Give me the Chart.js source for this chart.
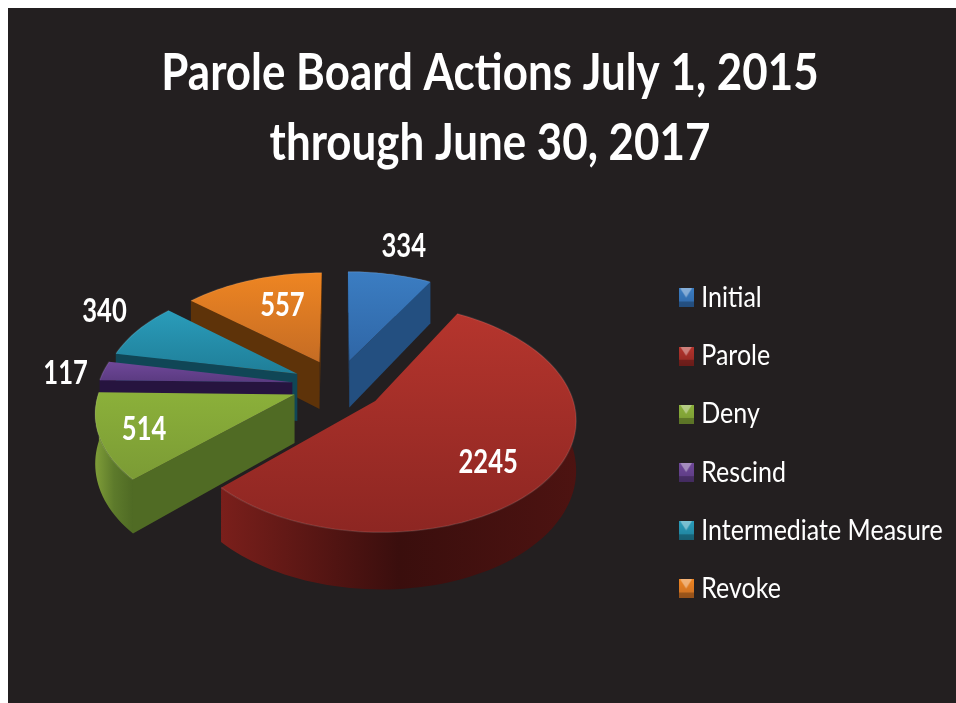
<!DOCTYPE html>
<html>
<head>
<meta charset="utf-8">
<title>Parole Board Actions</title>
<script src="https://cdn.jsdelivr.net/npm/chart.js@4"></script>
<style>
    html, body { margin: 0; padding: 0; background: #fff; overflow: hidden; }
    #wrap { position: absolute; left: 8px; top: 8px; width: 948px; height: 695px; background: #231f20; }
</style>
</head>
<body>
<div id="wrap"><canvas id="pieChart" width="948" height="695"></canvas></div>
<script>
// Chart data
const categories = ['Initial', 'Parole', 'Deny', 'Rescind', 'Intermediate Measure', 'Revoke'];
const actions = [334, 2245, 514, 117, 340, 557];
const titleLines = ['Parole Board Actions July 1, 2015', 'through June 30, 2017'];

// Slice colours: top surface light/dark, flat cut walls, rim wall left/middle/right
const topLight = ['#3b7dc2', '#b5352d', '#8bb03a', '#6f4899', '#2a9cba', '#ee8522'];
const topDark = ['#2f66a6', '#8d2622', '#7b9b35', '#5a3a80', '#1f7e98', '#c56c24'];
const cutWall = ['#234f80', '#3a0f0e', '#506b24', '#26143f', '#104656', '#5e3309'];
const rimLeft = ['#234f80', '#7a1f1b', '#7f9d38', '#2a1747', '#114c5e', '#5e3309'];
const rimMid = ['#234f80', '#3a0e0d', '#5d7a2b', '#2a1747', '#114c5e', '#5e3309'];
const rimRight = ['#1d4370', '#4d1311', '#4f6a24', '#1d1033', '#0d3d4c', '#542c08'];

// How far out each value label sits (pie radii) and its small shift on the page
const labelRadius = [1.40, 0.72, 0.78, 1.19, 1.22, 0.66];
const labelShift = [[0, 2], [-10, 9], [0, 2], [-3, 5], [-1, -9], [9, 0]];

// Camera used to tilt the pie
const camera = { x: 330, y: 377, rx: 194, ry: 108, depth: 48, perspective: 0.14 };

// Horizontal squeeze of the wide Lato glyphs
const titleSqueeze = 0.844;
const legendSqueeze = 0.893;
const legendMarkerX = 670.5;

function project(u, v, h) {
    const s = 1 / (1 - camera.perspective * v);
    return {
        x: camera.x + camera.rx * u * s,
        y: camera.y + camera.ry * v * s + h * camera.depth * s
    };
}

// Points of one slice on the unit circle, moved out by its offset
function sliceGeometry(arc) {
    const { startAngle, endAngle, outerRadius } = arc.getProps(['startAngle', 'endAngle', 'outerRadius']);
    const mid = (startAngle + endAngle) / 2;
    const e = arc.options.offset / outerRadius;
    const ox = Math.cos(mid) * e;
    const oy = Math.sin(mid) * e;
    const rim = [];
    const steps = Math.max(6, Math.round((endAngle - startAngle) * 30));
    for (let i = 0; i <= steps; i++) {
        const a = startAngle + (endAngle - startAngle) * i / steps;
        rim.push([Math.cos(a) + ox, Math.sin(a) + oy]);
    }
    return { mid, ox, oy, rim };
}

function fillPath(ctx, points, fill) {
    ctx.beginPath();
    points.forEach((p, i) => i ? ctx.lineTo(p.x, p.y) : ctx.moveTo(p.x, p.y));
    ctx.closePath();
    ctx.fillStyle = fill;
    ctx.fill();
}

function wall(ctx, pts, fill) {
    const top = pts.map(p => project(p[0], p[1], 0));
    const bottom = pts.map(p => project(p[0], p[1], 1)).reverse();
    fillPath(ctx, top.concat(bottom), fill);
}

// A cut shows only when the slice's top lies above its edge on the page
function cutFacesViewer(apex, edge, inner) {
    const a = project(apex[0], apex[1], 0);
    const p = project(edge[0], edge[1], 0);
    const q = project(inner[0], inner[1], 0);
    const cross = (p.x - a.x) * (q.y - a.y) - (p.y - a.y) * (q.x - a.x);
    return cross * Math.sign(p.x - a.x) < 0;
}

function drawSlice(ctx, arc, i) {
    const { ox, oy, rim } = sliceGeometry(arc);
    const apex = [ox, oy];
    const inner = rim[Math.floor(rim.length / 2)];

    // rim wall first, then the visible cuts, the top covers whatever faces away
    const xs = rim.map(p => project(p[0], p[1], 1).x);
    const side = ctx.createLinearGradient(Math.min(...xs), 0, Math.max(...xs), 0);
    side.addColorStop(0, rimLeft[i]);
    side.addColorStop(0.5, rimMid[i]);
    side.addColorStop(1, rimRight[i]);
    wall(ctx, rim, side);
    [rim[0], rim[rim.length - 1]].forEach(edge => {
        if (cutFacesViewer(apex, edge, inner)) {
            wall(ctx, [apex, edge], cutWall[i]);
        }
    });

    const top = [project(apex[0], apex[1], 0)].concat(rim.map(p => project(p[0], p[1], 0)));
    const ys = top.map(p => p.y);
    const face = ctx.createLinearGradient(0, Math.min(...ys), 0, Math.max(...ys));
    face.addColorStop(0, topLight[i]);
    face.addColorStop(1, topDark[i]);
    fillPath(ctx, top, face);

    // soft bevel along the outer edge
    ctx.beginPath();
    top.slice(1).forEach((p, n) => n ? ctx.lineTo(p.x, p.y) : ctx.moveTo(p.x, p.y));
    ctx.strokeStyle = 'rgba(255,255,255,0.10)';
    ctx.lineWidth = 1.5;
    ctx.stroke();
}

// Draws the tilted slices out of the arc elements the pie controller has laid out
const tiltedPie = {
    id: 'tiltedPie',
    beforeDatasetDraw(chart) {
        const ctx = chart.ctx;
        const arcs = chart.getDatasetMeta(0).data;
        const order = arcs.map((arc, i) => i).sort((a, b) => sliceGeometry(arcs[a]).oy - sliceGeometry(arcs[b]).oy);
        ctx.save();
        order.forEach(i => drawSlice(ctx, arcs[i], i));

        // value labels
        ctx.fillStyle = '#fff';
        ctx.textAlign = 'center';
        ctx.textBaseline = 'middle';
        arcs.forEach((arc, i) => {
            const { mid, ox, oy } = sliceGeometry(arc);
            const p = project(ox + Math.cos(mid) * labelRadius[i], oy + Math.sin(mid) * labelRadius[i], 0);
            ctx.save();
            ctx.translate(p.x + labelShift[i][0], p.y + labelShift[i][1]);
            ctx.scale(0.8, 1);
            ctx.font = 'bold 32px Lato';
            ctx.fillText(actions[i], 0, 0);
            ctx.restore();
        });
        ctx.restore();
        return false;
    },
    // Title and legend keep their own layout, only the glyphs get narrower
    afterLayout(chart) {
        const title = chart.titleBlock;
        const legend = chart.legend;
        const drawTitle = Object.getPrototypeOf(title).draw;
        const drawLegend = Object.getPrototypeOf(legend).draw;
        title.draw = function () {
            const ctx = chart.ctx;
            const cx = (title.left + title.right) / 2;
            ctx.save();
            ctx.translate(cx, 0);
            ctx.scale(titleSqueeze, 1);
            ctx.translate(-cx, 0);
            drawTitle.call(title);
            ctx.restore();
        };
        legend.draw = function () {
            const ctx = chart.ctx;
            const hit = legend.legendHitBoxes[0].left;
            ctx.save();
            ctx.translate(legendMarkerX, 0);
            ctx.scale(legendSqueeze, 1);
            ctx.translate(-hit + 5.5, 0);
            drawLegend.call(legend);
            ctx.restore();
        };
    }
};

// Little bevelled legend squares
function makeMarker(i) {
    const c = document.createElement('canvas');
    c.width = 17;
    c.height = 19;
    const m = c.getContext('2d');
    const g = m.createLinearGradient(0, 0, 0, 19);
    g.addColorStop(0, topLight[i]);
    g.addColorStop(1, topDark[i]);
    m.fillStyle = g;
    m.fillRect(0, 0, 17, 19);
    m.fillStyle = 'rgba(255,255,255,0.38)';
    m.beginPath();
    m.moveTo(2, 0);
    m.lineTo(15, 0);
    m.lineTo(8.5, 9);
    m.fill();
    m.fillStyle = 'rgba(0,0,0,0.25)';
    m.fillRect(0, 13, 17, 6);
    return c;
}

const markers = categories.map((c, i) => makeMarker(i));

const pieChart = new Chart(document.getElementById('pieChart').getContext('2d'), {
    type: 'pie',
    plugins: [tiltedPie],
    data: {
        labels: categories,
        datasets: [{
            data: actions,
            backgroundColor: topLight,
            borderWidth: 0,
            offset: 38,
            radius: 160
        }]
    },
    options: {
        responsive: false,
        animation: false,
        layout: { padding: { left: 16 } },
        plugins: {
            tooltip: { enabled: false },
            title: {
                display: true,
                text: titleLines,
                color: '#fff',
                font: { family: 'Lato', weight: 'bold', size: 52, lineHeight: 1.346 },
                padding: { top: 30, bottom: 6 }
            },
            legend: {
                position: 'right',
                fullSize: false,
                labels: {
                    color: '#fff',
                    font: { family: 'Lato', size: 28 },
                    usePointStyle: true,
                    boxWidth: 6,
                    boxHeight: 17,
                    padding: 30.2,
                    generateLabels(chart) {
                        return Chart.overrides.pie.plugins.legend.labels.generateLabels(chart)
                            .map((item, i) => ({ ...item, pointStyle: markers[i], fontColor: '#fff' }));
                    }
                }
            }
        }
    }
});
</script>
</body>
</html>
